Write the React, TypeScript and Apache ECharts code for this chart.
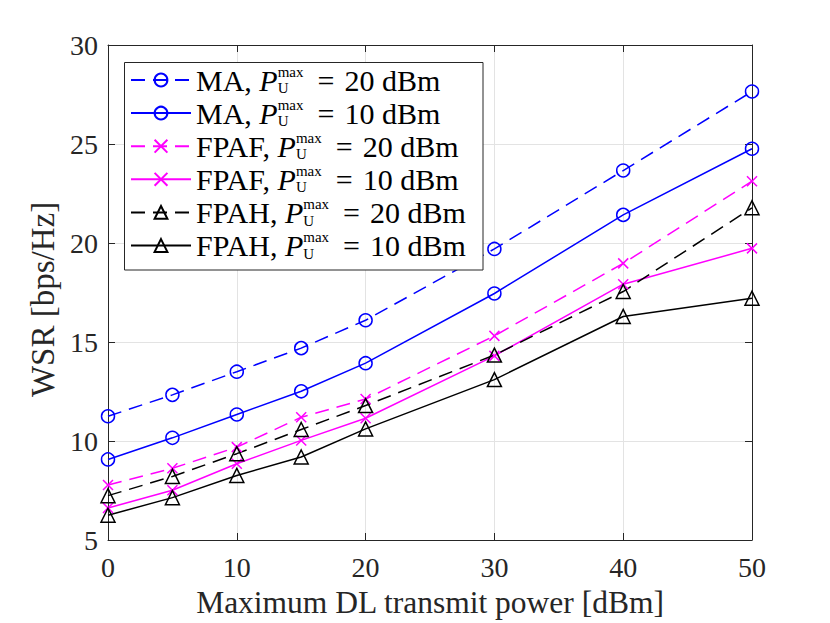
import React, { useEffect, useRef } from "react";
import * as echarts from "echarts";

const xValues = [0, 5, 10, 15, 20, 30, 40, 50];
const ma20 = [11.25, 12.33, 13.5, 14.69, 16.1, 19.7, 23.66, 27.65];
const ma10 = [9.07, 10.16, 11.34, 12.51, 13.93, 17.45, 21.42, 24.76];
const fpaf20 = [7.78, 8.62, 9.69, 11.2, 12.12, 15.31, 18.97, 23.12];
const fpaf10 = [6.62, 7.51, 8.85, 10.03, 11.15, 14.3, 17.92, 19.73];
const fpah20 = [7.24, 8.21, 9.36, 10.58, 11.79, 14.34, 17.55, 21.78];
const fpah10 = [6.25, 7.14, 8.26, 9.19, 10.61, 13.1, 16.29, 17.21];

const schemes = ["MA", "MA", "FPAF", "FPAF", "FPAH", "FPAH"];
const powers = [20, 10, 20, 10, 20, 10];
const seriesValues = [ma20, ma10, fpaf20, fpaf10, fpah20, fpah10];
const colors = ["#0000ff", "#0000ff", "#ff00ff", "#ff00ff", "#000000", "#000000"];
const dashed = [true, false, true, false, true, false];
const CROSS = "path://M0,0L10,10M10,0L0,10";
const symbols = ["circle", "circle", CROSS, CROSS, "triangle", "triangle"];
const symbolSizes = [13, 13, 10, 10, 14, 14];

const FONT = "Liberation Serif";
const TXT = "#262626";

export default function App() {
  const ref = useRef<HTMLDivElement>(null);
  useEffect(() => {
    if (!ref.current) return;
    const chart = echarts.init(ref.current, null, { renderer: "svg" });
    const names = schemes.map((s, i) => `${s}, P_U^max = ${powers[i]} dBm`);
    const series = seriesValues.map((vals, i) => ({
      name: names[i],
      type: "line",
      data: vals.map((v, j) => [xValues[j], v]),
      symbol: symbols[i],
      symbolSize: symbolSizes[i],
      showAllSymbol: true,
      lineStyle: {
        color: colors[i],
        width: 1.5,
        type: dashed[i] ? [14, 8] : "solid",
      },
      itemStyle: {
        color: "transparent",
        borderColor: colors[i],
        borderWidth: 1.5,
      },
      emphasis: { disabled: true },
      z: 2,
    }));
    const legendFs = 30;
    const subFs = 15;
    const subPad = 16.3;
    const supPad = 16.9;
    const rowH = 33.4;
    const tokenH = Math.max(subFs + subPad, subFs + supPad, legendFs);
    chart.setOption({
      animation: false,
      grid: { left: 108, right: 78, top: 45, bottom: 82, containLabel: false },
      graphic: [
        {
          type: "rect",
          z: 3,
          shape: { x: 124.5, y: 62.5, width: 358.5, height: 207.5 },
          style: { fill: "#ffffff", stroke: TXT, lineWidth: 1 },
          silent: true,
        },
      ],
      xAxis: [
        {
          type: "value",
          min: 0,
          max: 50,
          interval: 10,
          position: "bottom",
          name: "Maximum DL transmit power [dBm]",
          nameLocation: "middle",
          nameGap: 46,
          nameTextStyle: { fontFamily: FONT, fontSize: 31.5, color: TXT },
          axisLine: { show: true, onZero: false, lineStyle: { color: TXT, width: 1 } },
          axisTick: { show: true, inside: true, length: 7, lineStyle: { color: TXT } },
          axisLabel: { fontFamily: FONT, fontSize: 28, color: TXT, margin: 13 },
          splitLine: { show: true, lineStyle: { color: "#e3e3e3", width: 1 } },
        },
        {
          type: "value",
          min: 0,
          max: 50,
          interval: 10,
          position: "top",
          axisLine: { show: true, onZero: false, lineStyle: { color: TXT, width: 1 } },
          axisTick: { show: true, inside: true, length: 7, lineStyle: { color: TXT } },
          axisLabel: { show: false },
          splitLine: { show: false },
        },
      ],
      yAxis: [
        {
          type: "value",
          min: 5,
          max: 30,
          interval: 5,
          position: "left",
          name: "WSR [bps/Hz]",
          nameLocation: "middle",
          nameGap: 45,
          nameTextStyle: { fontFamily: FONT, fontSize: 33, color: TXT, padding: [0, 14, 0, 0] },
          axisLine: { show: true, onZero: false, lineStyle: { color: TXT, width: 1 } },
          axisTick: { show: true, inside: true, length: 7, lineStyle: { color: TXT } },
          axisLabel: { fontFamily: FONT, fontSize: 28, color: TXT, margin: 10 },
          splitLine: { show: true, lineStyle: { color: "#e3e3e3", width: 1 } },
        },
        {
          type: "value",
          min: 5,
          max: 30,
          interval: 5,
          position: "right",
          axisLine: { show: true, onZero: false, lineStyle: { color: TXT, width: 1 } },
          axisTick: { show: true, inside: true, length: 7, lineStyle: { color: TXT } },
          axisLabel: { show: false },
          splitLine: { show: false },
        },
      ],
      legend: {
        show: true,
        z: 4,
        orient: "vertical",
        left: 130,
        top: 80 - tokenH / 2,
        padding: 0,
        itemGap: rowH - tokenH,
        itemWidth: 60,
        itemHeight: 16,
        selectedMode: false,
        data: names,
        formatter: (name: string) => {
          const idx = names.indexOf(name);
          return `{n|${schemes[idx]}, }{p|P}{u|U}{m|max}{e|=}{n|${powers[idx]} dBm}`;
        },
        textStyle: {
          fontFamily: FONT,
          fontSize: legendFs,
          color: "#000000",
          rich: {
            n: { fontFamily: FONT, fontSize: legendFs, color: "#000000" },
            e: { fontFamily: FONT, fontSize: legendFs, color: "#000000", padding: [0, 10, 0, 10] },
            p: { fontFamily: FONT, fontSize: legendFs, fontStyle: "italic", color: "#000000" },
            u: {
              fontFamily: FONT,
              fontSize: subFs,
              color: "#000000",
              padding: [subPad, 0, 0, 0],
              width: 0.001,
            },
            m: {
              fontFamily: FONT,
              fontSize: subFs,
              color: "#000000",
              padding: [0, 4, supPad, 0],
            },
          },
        },
      },
      series,
    });
    return () => chart.dispose();
  }, []);
  return (
    <div
      ref={ref}
      style={{ position: "fixed", left: 0, top: 0, width: 830, height: 623, background: "#ffffff" }}
    />
  );
}
